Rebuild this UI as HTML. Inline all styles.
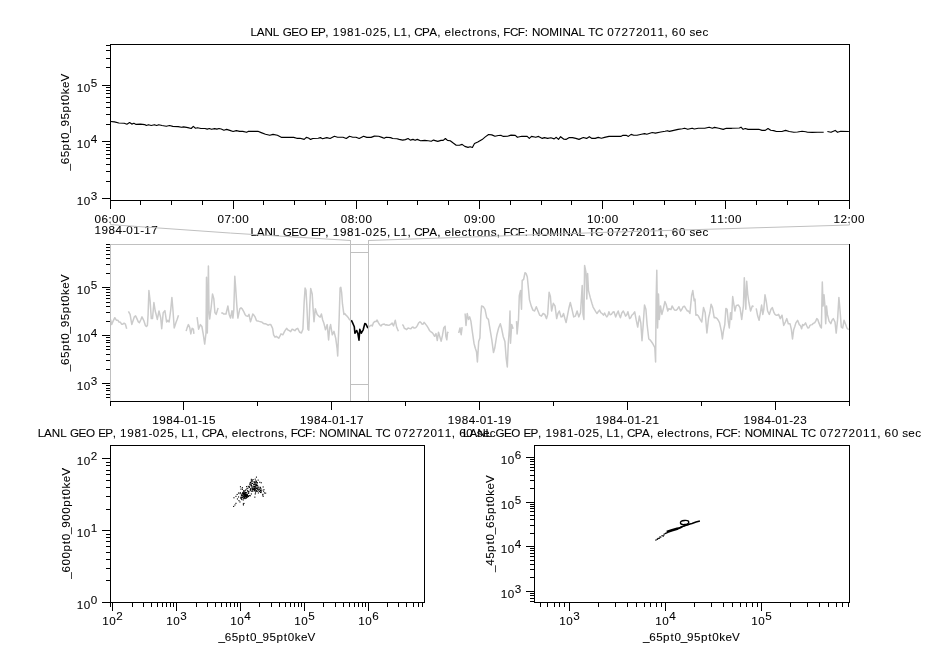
<!DOCTYPE html>
<html><head><meta charset="utf-8"><style>
html,body{margin:0;padding:0;background:#fff;}
svg{display:block;will-change:transform;}
text{font-family:"Liberation Sans",sans-serif;font-size:11.66px;fill:#000;stroke:#000;stroke-width:0.08px;}
</style></head><body>
<svg width="926" height="647" viewBox="0 0 926 647">
<rect width="926" height="647" fill="#fff"/>
<path d="M110.7,121.5 L114.5,121.9 L118.8,123.0 L124.2,123.3 L126.9,124.2 L129.6,122.6 L131.8,124.1 L133.9,123.3 L136.1,124.4 L140.4,124.1 L144.7,124.6 L146.3,125.5 L148.5,124.7 L151.2,125.5 L154.4,124.7 L156.6,125.5 L158.8,124.7 L162.0,125.5 L166.3,126.3 L169.6,125.5 L172.8,126.4 L178.2,126.6 L181.4,127.3 L183.6,126.9 L187.9,127.6 L191.2,128.5 L193.3,126.4 L195.5,128.2 L197.6,127.7 L200.9,128.5 L205.0,128.5 L207.2,129.1 L209.3,128.5 L211.5,129.3 L214.7,128.6 L216.9,129.1 L219.0,128.5 L221.2,129.0 L223.9,130.2 L226.6,129.4 L229.8,130.4 L233.1,131.5 L236.3,130.6 L239.6,131.4 L242.8,131.4 L246.6,132.3 L248.2,131.4 L252.5,131.3 L257.9,131.3 L261.2,132.6 L265.5,134.2 L269.8,135.3 L273.0,134.4 L277.4,135.3 L281.7,137.4 L287.1,137.2 L293.6,137.4 L296.8,138.3 L300.0,138.3 L304.2,139.4 L306.3,137.4 L308.5,138.0 L310.6,139.4 L312.8,138.5 L318.2,138.3 L320.4,137.6 L322.5,138.7 L326.8,137.6 L330.1,138.5 L334.4,136.3 L337.6,137.2 L343.0,137.2 L346.3,138.5 L349.5,136.3 L352.8,137.2 L356.0,137.2 L359.2,138.5 L363.6,136.3 L366.8,137.4 L371.1,137.4 L374.4,136.1 L378.7,136.3 L381.9,137.4 L384.1,138.3 L386.2,137.2 L390.6,137.6 L392.7,138.5 L397.0,138.7 L399.2,139.4 L402.7,140.1 L405.4,139.6 L408.1,138.5 L410.3,140.1 L413.0,139.4 L415.1,140.3 L417.3,139.4 L420.5,140.7 L424.8,140.4 L428.1,140.7 L431.3,141.2 L433.5,140.1 L437.8,141.4 L441.0,140.4 L443.2,140.4 L445.4,138.5 L447.5,140.4 L450.2,140.7 L452.9,142.8 L456.2,145.2 L459.4,145.3 L462.1,144.4 L464.8,146.4 L468.0,147.4 L470.2,146.8 L472.4,147.5 L474.5,143.6 L477.8,142.1 L482.1,139.6 L485.3,136.9 L488.6,134.5 L491.8,134.9 L495.0,136.3 L498.3,135.5 L501.2,135.4 L503.4,136.4 L507.7,136.2 L511.0,135.1 L515.3,135.4 L517.4,137.3 L521.8,136.2 L527.2,136.4 L529.3,138.4 L531.5,136.4 L535.8,137.3 L538.5,136.4 L542.3,138.4 L544.4,137.6 L547.7,138.4 L550.9,137.8 L554.2,138.9 L556.3,137.3 L558.5,139.4 L560.6,136.7 L563.9,139.2 L566.0,139.4 L569.3,137.5 L572.5,137.6 L575.8,138.4 L579.0,139.4 L583.3,137.5 L586.6,138.4 L589.3,136.7 L592.0,138.4 L595.2,138.4 L598.2,137.4 L601.4,138.2 L604.6,137.4 L609.0,136.4 L615.4,136.4 L620.8,136.4 L623.0,135.3 L626.2,135.3 L628.4,136.4 L631.1,134.4 L633.8,135.3 L637.0,135.2 L641.4,134.2 L644.6,133.6 L646.8,134.2 L652.2,132.5 L655.4,133.1 L660.8,132.0 L665.1,131.2 L667.3,130.7 L669.4,131.4 L673.8,130.4 L678.1,129.4 L682.4,128.7 L684.6,128.2 L687.8,129.3 L692.1,128.2 L694.3,129.0 L698.3,128.2 L704.8,128.2 L709.1,127.2 L712.4,128.2 L714.5,127.4 L718.8,128.2 L723.2,129.4 L726.4,128.3 L731.8,128.3 L739.4,128.0 L741.0,127.2 L743.1,129.3 L745.3,128.5 L748.0,129.4 L753.4,129.4 L758.8,129.3 L762.0,130.4 L765.3,130.4 L768.0,128.5 L770.7,130.3 L773.7,130.6 L776.4,131.5 L781.9,131.5 L785.6,130.4 L789.3,131.5 L793.9,132.3 L797.5,132.0 L802.1,131.3 L805.8,131.7 L807.6,132.3 L812.2,132.4 L817.7,132.2 L823.7,132.3" fill="none" stroke="#000" stroke-width="1.15" stroke-linejoin="round"/>
<path d="M827.4,131.5 L831.0,132.3 L835.2,130.4 L837.5,132.3 L840.7,131.3 L848.9,131.5" fill="none" stroke="#000" stroke-width="1.15" stroke-linejoin="round"/>
<rect x="110" y="44" width="740" height="1" fill="#000"/>
<rect x="110" y="44" width="1" height="157" fill="#000"/>
<rect x="110" y="200" width="740" height="1" fill="#000"/>
<rect x="849" y="44" width="1" height="157" fill="#000"/>
<rect x="102" y="198" width="8" height="1" fill="#000"/>
<rect x="106" y="181" width="4" height="1" fill="#000"/>
<rect x="106" y="171" width="4" height="1" fill="#000"/>
<rect x="106" y="164" width="4" height="1" fill="#000"/>
<rect x="106" y="158" width="4" height="1" fill="#000"/>
<rect x="106" y="154" width="4" height="1" fill="#000"/>
<rect x="106" y="150" width="4" height="1" fill="#000"/>
<rect x="106" y="147" width="4" height="1" fill="#000"/>
<rect x="106" y="144" width="4" height="1" fill="#000"/>
<rect x="102" y="141" width="8" height="1" fill="#000"/>
<rect x="106" y="124" width="4" height="1" fill="#000"/>
<rect x="106" y="114" width="4" height="1" fill="#000"/>
<rect x="106" y="107" width="4" height="1" fill="#000"/>
<rect x="106" y="102" width="4" height="1" fill="#000"/>
<rect x="106" y="97" width="4" height="1" fill="#000"/>
<rect x="106" y="93" width="4" height="1" fill="#000"/>
<rect x="106" y="90" width="4" height="1" fill="#000"/>
<rect x="106" y="87" width="4" height="1" fill="#000"/>
<rect x="102" y="85" width="8" height="1" fill="#000"/>
<rect x="106" y="67" width="4" height="1" fill="#000"/>
<rect x="106" y="58" width="4" height="1" fill="#000"/>
<rect x="106" y="50" width="4" height="1" fill="#000"/>
<rect x="106" y="45" width="4" height="1" fill="#000"/>
<text x="76.86 83.86" y="205">10</text>
<text x="90.86" y="200">3</text>
<text x="76.86 83.86" y="148">10</text>
<text x="90.86" y="143">4</text>
<text x="76.86 83.86" y="92">10</text>
<text x="90.86" y="87">5</text>
<rect x="110" y="200" width="1" height="9" fill="#000"/>
<rect x="140" y="200" width="1" height="5" fill="#000"/>
<rect x="171" y="200" width="1" height="5" fill="#000"/>
<rect x="202" y="200" width="1" height="5" fill="#000"/>
<rect x="233" y="200" width="1" height="9" fill="#000"/>
<rect x="263" y="200" width="1" height="5" fill="#000"/>
<rect x="294" y="200" width="1" height="5" fill="#000"/>
<rect x="325" y="200" width="1" height="5" fill="#000"/>
<rect x="356" y="200" width="1" height="9" fill="#000"/>
<rect x="387" y="200" width="1" height="5" fill="#000"/>
<rect x="417" y="200" width="1" height="5" fill="#000"/>
<rect x="448" y="200" width="1" height="5" fill="#000"/>
<rect x="479" y="200" width="1" height="9" fill="#000"/>
<rect x="510" y="200" width="1" height="5" fill="#000"/>
<rect x="541" y="200" width="1" height="5" fill="#000"/>
<rect x="571" y="200" width="1" height="5" fill="#000"/>
<rect x="602" y="200" width="1" height="9" fill="#000"/>
<rect x="633" y="200" width="1" height="5" fill="#000"/>
<rect x="664" y="200" width="1" height="5" fill="#000"/>
<rect x="695" y="200" width="1" height="5" fill="#000"/>
<rect x="725" y="200" width="1" height="9" fill="#000"/>
<rect x="756" y="200" width="1" height="5" fill="#000"/>
<rect x="787" y="200" width="1" height="5" fill="#000"/>
<rect x="818" y="200" width="1" height="5" fill="#000"/>
<rect x="849" y="200" width="1" height="9" fill="#000"/>
<text x="94.41 101.41 108.38 112.11 119.11" y="223">06:00</text>
<text x="217.57 224.57 231.55 235.28 242.28" y="223">07:00</text>
<text x="340.74 347.74 354.71 358.44 365.44" y="223">08:00</text>
<text x="463.91 470.91 477.88 481.61 488.61" y="223">09:00</text>
<text x="587.07 594.07 601.05 604.78 611.78" y="223">10:00</text>
<text x="710.24 717.24 724.21 727.94 734.94" y="223">11:00</text>
<text x="833.41 840.41 847.38 851.11 858.11" y="223">12:00</text>
<text x="94.41 101.41 108.40 115.40 122.19 126.37 133.37 140.15 144.34 151.34" y="234">1984-01-17</text>
<text x="250.40 256.76 264.53 272.87 279.44 282.69 291.28 298.65 307.81 310.91 317.88 325.35 328.94 332.71 339.90 347.08 354.27 361.20 365.54 372.72 379.91 386.92 390.51 393.83 400.57 407.59 411.18 414.33 422.00 429.27 437.20 440.79 444.44 451.43 454.52 461.43 468.05 472.26 476.74 483.78 490.63 496.66 500.25 503.35 509.90 517.74 524.83 528.53 531.96 540.31 549.31 559.08 562.38 570.79 578.45 585.02 588.32 595.07 603.40 607.16 614.35 621.54 628.73 635.91 643.10 650.29 657.48 664.49 668.08 671.85 679.03 686.04 689.49 695.58 702.49" y="36">LANL GEO EP, 1981-025, L1, CPA, electrons, FCF: NOMINAL TC 07272011, 60 sec</text>
<g transform="translate(69.2,122) rotate(-90)"><text x="-48.61 -42.37 -35.37 -28.38 -21.11 -17.07 -10.82 -4.57 2.42 9.41 16.68 20.72 27.73 33.97 40.47" y="0">_65pt0_95pt0keV</text></g>
<text x="250.40 256.76 264.53 272.87 279.44 282.69 291.28 298.65 307.81 310.91 317.88 325.35 328.94 332.71 339.90 347.08 354.27 361.20 365.54 372.72 379.91 386.92 390.51 393.83 400.57 407.59 411.18 414.33 422.00 429.27 437.20 440.79 444.44 451.43 454.52 461.43 468.05 472.26 476.74 483.78 490.63 496.66 500.25 503.35 509.90 517.74 524.83 528.53 531.96 540.31 549.31 559.08 562.38 570.79 578.45 585.02 588.32 595.07 603.40 607.16 614.35 621.54 628.73 635.91 643.10 650.29 657.48 664.49 668.08 671.85 679.03 686.04 689.49 695.58 702.49" y="236">LANL GEO EP, 1981-025, L1, CPA, electrons, FCF: NOMINAL TC 07272011, 60 sec</text>
<path d="M110.5,222.5 L110.5,224.6 Q230.5,233.6 350.5,240.5" fill="none" stroke="#c0c0c0" stroke-width="1"/>
<path d="M849.5,222.5 L849.5,225 Q609,231.7 368.5,240.5" fill="none" stroke="#c0c0c0" stroke-width="1"/>
<path d="M110.5,319.4 L111.7,324.5 L113.1,321.1 L114.8,317.7 L116.5,320.3 L117.8,320.2 L119.0,322.0 L120.3,322.2 L121.6,324.2 L122.8,324.2 L124.1,323.2 L125.4,324.2 L126.7,328.8" fill="none" stroke="#cbcbcb" stroke-width="1.5" stroke-linejoin="round"/>
<path d="M128.4,311.3 L130.1,314.4 L131.8,324.5 L133.1,320.6 L134.3,316.9 L135.6,315.9 L136.9,318.6 L138.2,321.6 L139.4,322.8 L140.7,320.0 L142.0,316.9 L143.7,320.3 L145.4,325.4 L146.4,326.5 L147.4,325.4 L148.1,314.4 L148.9,290.6 L150.1,300.8 L151.3,318.6 L152.5,318.6 L153.9,302.5 L155.2,311.0 L156.2,314.8 L157.3,319.4 L159.0,311.0 L160.7,317.7 L161.7,328.8 L163.2,312.7 L164.9,310.6 L166.6,322.0 L167.8,320.3 L169.1,322.0 L170.8,309.3 L171.9,297.4 L172.9,309.3 L174.2,328.0 L175.9,322.8 L177.2,319.3 L178.5,315.2" fill="none" stroke="#cbcbcb" stroke-width="1.5" stroke-linejoin="round"/>
<path d="M186.1,331.1 L187.2,327.6 L188.4,324.6 L189.7,327.4 L190.8,333.9 L192.1,328.3 L193.4,329.2 L193.9,333.9" fill="none" stroke="#cbcbcb" stroke-width="1.5" stroke-linejoin="round"/>
<path d="M197.1,317.2 L198.6,329.2 L200.4,324.6 L201.9,326.5 L203.2,333.9 L204.7,344.1 L206.0,333.0 L206.5,277.3 L207.3,333.0 L207.8,307.0 L208.4,266.1 L209.0,310.7 L209.7,319.0 L211.2,307.0 L212.5,294.0 L213.8,298.6 L214.9,312.5 L216.2,314.4 L218.1,307.9" fill="none" stroke="#cbcbcb" stroke-width="1.5" stroke-linejoin="round"/>
<path d="M221.2,312.9 L222.4,312.9 L223.6,314.0 L224.8,314.1 L226.0,314.0 L227.9,306.0 L229.2,314.4 L230.5,318.1 L232.0,310.7 L232.9,318.1 L233.8,309.8 L234.8,276.3 L235.7,288.4 L236.8,305.1 L237.9,318.1 L239.8,308.8 L241.0,307.8 L242.2,308.8 L243.6,311.3 L245.0,314.4 L246.3,315.9 L247.7,316.3 L249.0,314.4 L250.5,321.8 L251.7,317.9 L252.8,314.0 L254.0,315.3 L255.2,317.2 L256.5,320.8 L257.8,320.9 L259.2,321.4 L260.6,321.8 L261.8,322.0 L263.1,323.2 L264.3,323.7 L265.5,323.8 L266.8,324.4 L268.0,325.2 L269.4,324.6 L270.8,324.6 L272.6,328.3 L273.6,334.8 L275.0,337.2 L276.3,336.3 L277.6,337.3 L278.8,338.2 L279.9,336.2 L281.0,333.9 L282.8,334.8 L284.7,331.1 L286.6,328.3 L288.0,330.0 L289.3,330.7 L290.7,331.6 L292.1,329.2 L293.5,329.8 L294.9,330.7 L296.3,329.0 L297.7,328.3 L299.5,332.0 L301.4,333.0 L302.9,329.2 L304.2,301.4 L305.1,288.0 L306.0,290.3 L307.0,308.8 L307.9,329.2 L308.8,330.2 L309.8,305.1 L310.7,288.4 L312.2,294.0 L313.1,308.8 L314.0,321.8 L315.3,308.8 L317.2,314.4 L319.0,316.3 L320.2,317.1 L321.4,314.0 L322.7,320.0 L323.8,322.9 L325.5,329.7 L327.2,324.6 L328.6,339.9 L329.7,328.0 L330.6,324.6 L332.3,334.8 L334.0,331.4 L335.7,338.2 L337.1,348.4 L337.7,356.0 L339.1,319.5 L340.1,288.0 L340.8,287.2 L341.6,292.3 L342.5,304.2 L343.9,314.4 L344.9,313.6 L345.9,315.2 L347.1,316.2 L348.4,317.8 L349.5,319.6 L350.7,320.3" fill="none" stroke="#cbcbcb" stroke-width="1.5" stroke-linejoin="round"/>
<path d="M368.2,327.8 L369.4,326.3 L371.3,325.2 L372.3,326.0 L373.3,323.1 L374.7,321.5 L376.1,321.5 L377.1,320.0 L378.2,322.4 L379.6,324.7 L381.0,325.9 L382.1,324.6 L383.1,324.2 L384.3,324.1 L385.4,325.0 L386.6,324.8 L388.0,325.2 L389.3,325.2 L390.7,324.4 L392.1,323.1 L393.5,325.9 L395.3,320.3 L396.7,327.3 L398.4,331.2" fill="none" stroke="#cbcbcb" stroke-width="1.5" stroke-linejoin="round"/>
<path d="M402.3,324.5 L403.3,325.6 L404.3,328.3 L405.3,328.7 L406.7,329.6 L408.1,328.0 L409.5,328.4 L410.9,328.7 L411.9,327.5 L413.0,327.0 L414.1,328.1 L415.1,328.0 L416.1,327.3 L417.2,325.9 L418.6,323.0 L420.0,321.7 L421.0,322.6 L422.0,324.2 L423.1,324.1 L424.1,322.4 L425.5,324.1 L426.9,325.9 L428.3,328.1 L429.7,330.8 L431.1,332.0 L432.5,332.9 L433.6,334.6 L434.6,336.3 L436.0,333.6 L437.3,340.5 L438.5,332.2 L440.1,337.7 L441.2,341.2 L442.4,335.7 L443.7,328.0 L445.1,326.2 L445.9,336.4 L446.8,339.8 L447.6,332.2 L448.5,333.0" fill="none" stroke="#cbcbcb" stroke-width="1.5" stroke-linejoin="round"/>
<path d="M458.7,333.0 L460.0,328.0 L461.2,334.7 L462.1,327.1" fill="none" stroke="#cbcbcb" stroke-width="1.5" stroke-linejoin="round"/>
<path d="M465.1,313.5 L466.0,325.4 L467.2,313.5 L468.5,319.4 L469.7,316.9 L470.9,321.1 L472.3,331.3 L474.0,343.2 L475.3,348.3 L476.5,351.7 L477.4,361.9 L478.7,341.5 L479.9,338.1 L480.8,316.0 L481.6,305.9 L483.3,306.7 L485.0,309.3 L486.7,317.7 L488.4,319.4 L490.1,329.6 L491.8,339.8 L493.5,352.6 L494.7,348.3 L495.8,341.5 L496.9,334.7 L498.6,328.0 L500.3,323.7 L501.5,328.0 L503.2,336.4 L504.9,341.5 L506.2,358.5 L507.3,367.0 L508.3,343.2 L509.3,329.6 L510.0,311.0 L510.5,343.2 L511.7,324.5 L513.1,328.8" fill="none" stroke="#cbcbcb" stroke-width="1.5" stroke-linejoin="round"/>
<path d="M516.5,321.1 L517.1,333.9 L518.5,319.4 L519.3,295.7 L520.5,290.6 L521.5,309.3 L522.2,280.4 L523.6,279.5 L525.0,272.7 L526.1,273.6 L527.3,277.0 L528.3,287.2 L529.5,299.9 L531.2,305.9 L532.9,310.1 L534.6,311.0 L536.3,306.7 L538.0,311.0 L539.7,315.2 L541.4,316.1 L543.1,313.5 L544.8,314.4 L546.5,318.6 L547.7,314.4 L549.1,292.3 L550.4,296.5 L551.6,311.0 L553.3,303.3 L555.0,305.9 L556.7,318.6 L558.0,313.3 L559.3,311.0 L561.0,316.9 L562.2,316.6 L563.5,313.5 L564.8,318.2 L566.1,322.5 L567.7,314.4 L569.0,307.7 L570.3,302.5 L572.0,309.3 L573.7,316.9 L575.4,316.1 L577.1,311.0 L578.8,316.9 L580.5,312.7 L582.2,285.5 L583.0,314.4 L583.9,319.4 L584.6,265.5 L585.9,271.9 L586.8,299.1 L587.6,273.6 L588.5,290.6 L590.2,297.4 L591.9,303.3 L593.1,307.1 L594.4,309.3 L595.7,311.6 L597.0,313.5 L598.2,311.8 L599.5,310.1 L600.8,312.6 L602.1,313.5 L603.4,315.1 L604.6,313.0 L605.7,315.4 L606.8,316.9 L607.8,315.6 L608.9,311.8 L610.1,314.8 L611.4,314.4 L612.7,312.3 L614.0,311.8 L615.7,316.9 L617.0,313.5 L618.2,311.0 L619.3,315.0 L620.4,317.7 L621.8,313.0 L623.3,311.0 L624.4,313.3 L625.5,316.1 L626.7,315.0 L627.9,311.8 L629.6,318.6 L630.7,317.7 L631.8,315.2 L633.2,314.0 L634.7,311.8 L636.1,319.4 L637.7,327.1 L639.4,316.1 L640.8,322.8 L642.0,340.7 L643.2,324.5 L644.5,305.0 L645.9,309.3 L647.1,324.5 L648.8,339.0 L650.0,339.8 L651.3,341.5 L652.5,343.2 L653.4,344.9 L654.8,347.5 L655.6,361.9 L656.1,300.8 L656.8,270.2 L657.6,327.9 L658.5,294.0 L659.3,319.4 L660.5,305.9 L661.9,314.4 L663.6,307.6 L664.9,301.6 L666.1,304.2 L667.8,311.0 L668.9,308.6 L670.0,309.3 L671.0,309.5 L672.1,305.9 L673.4,308.4 L674.6,310.1 L675.9,310.3 L677.2,309.3 L678.9,306.7 L680.6,311.0 L681.9,309.2 L683.1,306.7 L684.4,306.2 L685.7,308.4 L687.4,311.0 L688.6,311.1 L689.9,313.5 L691.6,295.7 L692.8,290.6 L694.2,300.8 L695.0,299.1 L695.9,315.2 L697.1,314.7 L698.4,316.1 L700.1,319.4 L701.8,322.0 L703.5,307.6 L705.2,312.7 L706.9,333.0 L708.6,317.7 L709.9,312.5 L711.1,304.2 L712.5,307.6 L714.2,317.7 L715.7,317.5 L717.1,318.6 L718.4,320.5 L719.6,322.8 L721.4,331.3 L722.4,339.0 L723.4,331.3 L724.8,324.5 L725.9,308.4 L727.1,309.3 L728.2,321.1 L729.3,327.9 L730.5,312.7 L731.5,319.4 L732.7,296.5 L733.6,302.5 L734.9,311.0 L736.1,305.9 L737.2,305.2 L738.3,305.0 L740.0,307.6 L741.7,319.4 L743.4,305.9 L744.3,277.8 L745.1,295.7 L745.8,309.3 L746.7,281.2 L747.7,294.0 L748.9,302.5 L750.6,311.0 L752.3,305.9 L753.6,306.7" fill="none" stroke="#cbcbcb" stroke-width="1.5" stroke-linejoin="round"/>
<path d="M756.2,308.4 L757.7,316.1 L759.1,320.3 L760.4,312.7 L761.6,305.0 L762.8,314.4 L763.8,309.3 L765.0,294.8 L766.2,300.8 L767.6,311.0 L769.3,314.4 L771.0,309.3 L772.3,307.6 L774.0,312.7 L775.0,314.4 L776.1,315.2 L777.4,315.2 L778.6,314.4 L780.3,318.6 L782.0,315.2 L783.7,325.4 L785.4,322.0 L786.8,318.6 L788.3,323.7 L790.0,323.7 L791.4,329.7 L792.5,339.0 L793.7,329.7 L794.8,326.5 L795.9,322.9 L797.6,320.3 L799.3,324.6 L800.5,325.7 L801.6,328.8 L802.6,324.6 L803.6,325.4 L804.6,324.3 L805.6,322.9 L806.7,325.7 L807.8,328.0 L808.9,327.7 L810.0,325.4 L811.0,324.9 L812.1,324.6 L813.4,323.3 L814.6,322.9 L815.7,321.1 L816.8,318.6 L817.8,319.5 L818.9,322.9 L820.6,327.1 L821.4,328.0 L822.3,282.1 L823.1,305.9 L824.0,294.8 L824.8,304.2 L825.7,323.7 L826.5,305.9 L827.4,314.4 L829.1,321.1 L830.8,323.7 L832.0,320.3 L833.3,318.6 L835.0,322.0 L836.2,333.1 L837.6,319.4 L838.9,297.4 L840.1,311.0 L841.3,327.1 L842.7,328.0 L844.0,320.3 L845.7,324.6 L846.9,328.0 L848.6,329.7" fill="none" stroke="#cbcbcb" stroke-width="1.5" stroke-linejoin="round"/>
<path d="M351.3,320.2 L352.4,322.4 L354.3,326.7 L354.9,333.2 L356.7,330.5 L357.8,333.2 L359.0,340.2 L359.8,329.4 L361.3,333.2 L363.2,329.8 L364.8,323.6 L365.9,324.0 L367.9,328.2" fill="none" stroke="#000" stroke-width="1.6" stroke-linejoin="round"/>
<rect x="350" y="240" width="1" height="161" fill="#c0c0c0"/>
<rect x="368" y="240" width="1" height="161" fill="#c0c0c0"/>
<rect x="351" y="252" width="17" height="1" fill="#c0c0c0"/>
<rect x="351" y="384" width="17" height="1" fill="#c0c0c0"/>
<rect x="110" y="244" width="740" height="1" fill="#c0c0c0"/>
<rect x="110" y="244" width="1" height="158" fill="#c0c0c0"/>
<rect x="110" y="401" width="740" height="1" fill="#000"/>
<rect x="849" y="244" width="1" height="158" fill="#000"/>
<rect x="106" y="397" width="4" height="1" fill="#000"/>
<rect x="106" y="394" width="4" height="1" fill="#000"/>
<rect x="106" y="390" width="4" height="1" fill="#000"/>
<rect x="106" y="388" width="4" height="1" fill="#000"/>
<rect x="106" y="385" width="4" height="1" fill="#000"/>
<rect x="102" y="383" width="8" height="1" fill="#000"/>
<rect x="106" y="369" width="4" height="1" fill="#000"/>
<rect x="106" y="360" width="4" height="1" fill="#000"/>
<rect x="106" y="354" width="4" height="1" fill="#000"/>
<rect x="106" y="349" width="4" height="1" fill="#000"/>
<rect x="106" y="346" width="4" height="1" fill="#000"/>
<rect x="106" y="342" width="4" height="1" fill="#000"/>
<rect x="106" y="340" width="4" height="1" fill="#000"/>
<rect x="106" y="337" width="4" height="1" fill="#000"/>
<rect x="102" y="335" width="8" height="1" fill="#000"/>
<rect x="106" y="321" width="4" height="1" fill="#000"/>
<rect x="106" y="312" width="4" height="1" fill="#000"/>
<rect x="106" y="306" width="4" height="1" fill="#000"/>
<rect x="106" y="302" width="4" height="1" fill="#000"/>
<rect x="106" y="298" width="4" height="1" fill="#000"/>
<rect x="106" y="295" width="4" height="1" fill="#000"/>
<rect x="106" y="292" width="4" height="1" fill="#000"/>
<rect x="106" y="289" width="4" height="1" fill="#000"/>
<rect x="102" y="287" width="8" height="1" fill="#000"/>
<rect x="106" y="273" width="4" height="1" fill="#000"/>
<rect x="106" y="264" width="4" height="1" fill="#000"/>
<rect x="106" y="258" width="4" height="1" fill="#000"/>
<rect x="106" y="254" width="4" height="1" fill="#000"/>
<rect x="106" y="250" width="4" height="1" fill="#000"/>
<rect x="106" y="247" width="4" height="1" fill="#000"/>
<rect x="106" y="244" width="4" height="1" fill="#000"/>
<text x="76.86 83.86" y="390">10</text>
<text x="90.86" y="385">3</text>
<text x="76.86 83.86" y="342">10</text>
<text x="90.86" y="337">4</text>
<text x="76.86 83.86" y="294">10</text>
<text x="90.86" y="289">5</text>
<rect x="110" y="401" width="1" height="5" fill="#000"/>
<rect x="183" y="401" width="1" height="9" fill="#000"/>
<rect x="257" y="401" width="1" height="5" fill="#000"/>
<rect x="331" y="401" width="1" height="9" fill="#000"/>
<rect x="405" y="401" width="1" height="5" fill="#000"/>
<rect x="479" y="401" width="1" height="9" fill="#000"/>
<rect x="553" y="401" width="1" height="5" fill="#000"/>
<rect x="627" y="401" width="1" height="9" fill="#000"/>
<rect x="701" y="401" width="1" height="5" fill="#000"/>
<rect x="775" y="401" width="1" height="9" fill="#000"/>
<rect x="849" y="401" width="1" height="5" fill="#000"/>
<text x="152.19 159.19 166.19 173.19 179.97 184.16 191.16 197.94 202.12 209.12" y="424">1984-01-15</text>
<text x="299.99 306.99 313.99 320.99 327.77 331.96 338.96 345.74 349.92 356.92" y="424">1984-01-17</text>
<text x="447.79 454.79 461.79 468.79 475.57 479.76 486.76 493.54 497.72 504.72" y="424">1984-01-19</text>
<text x="595.59 602.59 609.59 616.59 623.37 627.56 634.56 641.34 645.52 652.52" y="424">1984-01-21</text>
<text x="743.39 750.39 757.39 764.39 771.17 775.36 782.36 789.14 793.32 800.32" y="424">1984-01-23</text>
<g transform="translate(69.2,322.6) rotate(-90)"><text x="-48.61 -42.37 -35.37 -28.38 -21.11 -17.07 -10.82 -4.57 2.42 9.41 16.68 20.72 27.73 33.97 40.47" y="0">_65pt0_95pt0keV</text></g>
<text x="37.70 44.06 51.83 60.17 66.74 69.99 78.58 85.95 95.11 98.21 105.18 112.65 116.24 120.01 127.20 134.38 141.57 148.50 152.84 160.02 167.21 174.22 177.81 181.13 187.87 194.89 198.48 201.63 209.30 216.57 224.50 228.09 231.74 238.73 241.82 248.73 255.35 259.56 264.04 271.08 277.93 283.96 287.55 290.65 297.20 305.04 312.13 315.83 319.26 327.61 336.61 346.38 349.68 358.09 365.75 372.32 375.62 382.37 390.70 394.46 401.65 408.84 416.03 423.21 430.40 437.59 444.78 451.79 455.38 459.15 466.33 473.34 476.79 482.88 489.79" y="437">LANL GEO EP, 1981-025, L1, CPA, electrons, FCF: NOMINAL TC 07272011, 60 sec</text>
<rect x="110" y="445" width="315" height="1" fill="#000"/>
<rect x="110" y="445" width="1" height="158" fill="#000"/>
<rect x="110" y="602" width="315" height="1" fill="#000"/>
<rect x="424" y="445" width="1" height="158" fill="#000"/>
<rect x="102" y="602" width="8" height="1" fill="#000"/>
<rect x="106" y="580" width="4" height="1" fill="#000"/>
<rect x="106" y="568" width="4" height="1" fill="#000"/>
<rect x="106" y="559" width="4" height="1" fill="#000"/>
<rect x="106" y="552" width="4" height="1" fill="#000"/>
<rect x="106" y="546" width="4" height="1" fill="#000"/>
<rect x="106" y="541" width="4" height="1" fill="#000"/>
<rect x="106" y="537" width="4" height="1" fill="#000"/>
<rect x="106" y="534" width="4" height="1" fill="#000"/>
<rect x="102" y="530" width="8" height="1" fill="#000"/>
<rect x="106" y="509" width="4" height="1" fill="#000"/>
<rect x="106" y="496" width="4" height="1" fill="#000"/>
<rect x="106" y="487" width="4" height="1" fill="#000"/>
<rect x="106" y="480" width="4" height="1" fill="#000"/>
<rect x="106" y="474" width="4" height="1" fill="#000"/>
<rect x="106" y="470" width="4" height="1" fill="#000"/>
<rect x="106" y="465" width="4" height="1" fill="#000"/>
<rect x="106" y="462" width="4" height="1" fill="#000"/>
<rect x="102" y="458" width="8" height="1" fill="#000"/>
<text x="76.86 83.86" y="609">10</text>
<text x="90.86" y="604">0</text>
<text x="76.86 83.86" y="537">10</text>
<text x="90.86" y="532">1</text>
<text x="76.86 83.86" y="465">10</text>
<text x="90.86" y="460">2</text>
<rect x="110" y="602" width="1" height="5" fill="#000"/>
<rect x="112" y="602" width="1" height="9" fill="#000"/>
<rect x="132" y="602" width="1" height="5" fill="#000"/>
<rect x="143" y="602" width="1" height="5" fill="#000"/>
<rect x="151" y="602" width="1" height="5" fill="#000"/>
<rect x="157" y="602" width="1" height="5" fill="#000"/>
<rect x="162" y="602" width="1" height="5" fill="#000"/>
<rect x="166" y="602" width="1" height="5" fill="#000"/>
<rect x="170" y="602" width="1" height="5" fill="#000"/>
<rect x="173" y="602" width="1" height="5" fill="#000"/>
<rect x="176" y="602" width="1" height="9" fill="#000"/>
<rect x="196" y="602" width="1" height="5" fill="#000"/>
<rect x="207" y="602" width="1" height="5" fill="#000"/>
<rect x="215" y="602" width="1" height="5" fill="#000"/>
<rect x="221" y="602" width="1" height="5" fill="#000"/>
<rect x="226" y="602" width="1" height="5" fill="#000"/>
<rect x="230" y="602" width="1" height="5" fill="#000"/>
<rect x="234" y="602" width="1" height="5" fill="#000"/>
<rect x="237" y="602" width="1" height="5" fill="#000"/>
<rect x="240" y="602" width="1" height="9" fill="#000"/>
<rect x="259" y="602" width="1" height="5" fill="#000"/>
<rect x="271" y="602" width="1" height="5" fill="#000"/>
<rect x="279" y="602" width="1" height="5" fill="#000"/>
<rect x="285" y="602" width="1" height="5" fill="#000"/>
<rect x="290" y="602" width="1" height="5" fill="#000"/>
<rect x="294" y="602" width="1" height="5" fill="#000"/>
<rect x="298" y="602" width="1" height="5" fill="#000"/>
<rect x="301" y="602" width="1" height="5" fill="#000"/>
<rect x="304" y="602" width="1" height="9" fill="#000"/>
<rect x="323" y="602" width="1" height="5" fill="#000"/>
<rect x="335" y="602" width="1" height="5" fill="#000"/>
<rect x="343" y="602" width="1" height="5" fill="#000"/>
<rect x="349" y="602" width="1" height="5" fill="#000"/>
<rect x="354" y="602" width="1" height="5" fill="#000"/>
<rect x="358" y="602" width="1" height="5" fill="#000"/>
<rect x="362" y="602" width="1" height="5" fill="#000"/>
<rect x="365" y="602" width="1" height="5" fill="#000"/>
<rect x="368" y="602" width="1" height="9" fill="#000"/>
<rect x="387" y="602" width="1" height="5" fill="#000"/>
<rect x="398" y="602" width="1" height="5" fill="#000"/>
<rect x="406" y="602" width="1" height="5" fill="#000"/>
<rect x="413" y="602" width="1" height="5" fill="#000"/>
<rect x="418" y="602" width="1" height="5" fill="#000"/>
<rect x="422" y="602" width="1" height="5" fill="#000"/>
<text x="102.26 109.26" y="625">10</text>
<text x="116.26" y="620">2</text>
<text x="166.26 173.26" y="625">10</text>
<text x="180.26" y="620">3</text>
<text x="230.26 237.26" y="625">10</text>
<text x="244.26" y="620">4</text>
<text x="294.26 301.26" y="625">10</text>
<text x="308.26" y="620">5</text>
<text x="358.26 365.26" y="625">10</text>
<text x="372.26" y="620">6</text>
<text x="218.39 224.63 231.63 238.62 245.89 249.93 256.18 262.43 269.42 276.41 283.68 287.72 294.73 300.97 307.47" y="640.5">_65pt0_95pt0keV</text>
<g transform="translate(69.5,523.2) rotate(-90)"><text x="-55.61 -49.36 -42.37 -35.37 -28.38 -21.11 -17.07 -10.82 -4.57 2.42 9.42 16.41 23.68 27.72 34.73 40.97 47.47" y="0">_600pt0_900pt0keV</text></g>
<text x="463.10 469.46 477.23 485.57 492.14 495.39 503.98 511.35 520.51 523.61 530.58 538.05 541.64 545.41 552.60 559.78 566.97 573.90 578.24 585.42 592.61 599.62 603.21 606.53 613.27 620.29 623.88 627.03 634.70 641.97 649.90 653.49 657.14 664.13 667.22 674.13 680.75 684.96 689.44 696.48 703.33 709.36 712.95 716.05 722.60 730.44 737.53 741.23 744.66 753.01 762.01 771.78 775.08 783.49 791.15 797.72 801.02 807.77 816.10 819.86 827.05 834.24 841.43 848.61 855.80 862.99 870.18 877.19 880.78 884.55 891.73 898.74 902.19 908.28 915.19" y="437">LANL GEO EP, 1981-025, L1, CPA, electrons, FCF: NOMINAL TC 07272011, 60 sec</text>
<rect x="534" y="445" width="316" height="1" fill="#000"/>
<rect x="534" y="445" width="1" height="158" fill="#000"/>
<rect x="534" y="602" width="316" height="1" fill="#000"/>
<rect x="849" y="445" width="1" height="158" fill="#000"/>
<rect x="530" y="601" width="4" height="1" fill="#000"/>
<rect x="530" y="598" width="4" height="1" fill="#000"/>
<rect x="530" y="595" width="4" height="1" fill="#000"/>
<rect x="530" y="593" width="4" height="1" fill="#000"/>
<rect x="526" y="591" width="8" height="1" fill="#000"/>
<rect x="530" y="577" width="4" height="1" fill="#000"/>
<rect x="530" y="569" width="4" height="1" fill="#000"/>
<rect x="530" y="564" width="4" height="1" fill="#000"/>
<rect x="530" y="560" width="4" height="1" fill="#000"/>
<rect x="530" y="556" width="4" height="1" fill="#000"/>
<rect x="530" y="553" width="4" height="1" fill="#000"/>
<rect x="530" y="550" width="4" height="1" fill="#000"/>
<rect x="530" y="548" width="4" height="1" fill="#000"/>
<rect x="526" y="546" width="8" height="1" fill="#000"/>
<rect x="530" y="533" width="4" height="1" fill="#000"/>
<rect x="530" y="525" width="4" height="1" fill="#000"/>
<rect x="530" y="519" width="4" height="1" fill="#000"/>
<rect x="530" y="515" width="4" height="1" fill="#000"/>
<rect x="530" y="511" width="4" height="1" fill="#000"/>
<rect x="530" y="508" width="4" height="1" fill="#000"/>
<rect x="530" y="506" width="4" height="1" fill="#000"/>
<rect x="530" y="504" width="4" height="1" fill="#000"/>
<rect x="526" y="502" width="8" height="1" fill="#000"/>
<rect x="530" y="488" width="4" height="1" fill="#000"/>
<rect x="530" y="480" width="4" height="1" fill="#000"/>
<rect x="530" y="475" width="4" height="1" fill="#000"/>
<rect x="530" y="470" width="4" height="1" fill="#000"/>
<rect x="530" y="467" width="4" height="1" fill="#000"/>
<rect x="530" y="464" width="4" height="1" fill="#000"/>
<rect x="530" y="461" width="4" height="1" fill="#000"/>
<rect x="530" y="459" width="4" height="1" fill="#000"/>
<rect x="526" y="457" width="8" height="1" fill="#000"/>
<text x="500.86 507.86" y="598">10</text>
<text x="514.86" y="593">3</text>
<text x="500.86 507.86" y="553">10</text>
<text x="514.86" y="548">4</text>
<text x="500.86 507.86" y="509">10</text>
<text x="514.86" y="504">5</text>
<text x="500.86 507.86" y="464">10</text>
<text x="514.86" y="459">6</text>
<rect x="540" y="602" width="1" height="5" fill="#000"/>
<rect x="547" y="602" width="1" height="5" fill="#000"/>
<rect x="554" y="602" width="1" height="5" fill="#000"/>
<rect x="559" y="602" width="1" height="5" fill="#000"/>
<rect x="564" y="602" width="1" height="5" fill="#000"/>
<rect x="569" y="602" width="1" height="9" fill="#000"/>
<rect x="598" y="602" width="1" height="5" fill="#000"/>
<rect x="615" y="602" width="1" height="5" fill="#000"/>
<rect x="627" y="602" width="1" height="5" fill="#000"/>
<rect x="636" y="602" width="1" height="5" fill="#000"/>
<rect x="644" y="602" width="1" height="5" fill="#000"/>
<rect x="650" y="602" width="1" height="5" fill="#000"/>
<rect x="656" y="602" width="1" height="5" fill="#000"/>
<rect x="661" y="602" width="1" height="5" fill="#000"/>
<rect x="665" y="602" width="1" height="9" fill="#000"/>
<rect x="694" y="602" width="1" height="5" fill="#000"/>
<rect x="711" y="602" width="1" height="5" fill="#000"/>
<rect x="723" y="602" width="1" height="5" fill="#000"/>
<rect x="732" y="602" width="1" height="5" fill="#000"/>
<rect x="740" y="602" width="1" height="5" fill="#000"/>
<rect x="746" y="602" width="1" height="5" fill="#000"/>
<rect x="752" y="602" width="1" height="5" fill="#000"/>
<rect x="757" y="602" width="1" height="5" fill="#000"/>
<rect x="761" y="602" width="1" height="9" fill="#000"/>
<rect x="790" y="602" width="1" height="5" fill="#000"/>
<rect x="807" y="602" width="1" height="5" fill="#000"/>
<rect x="819" y="602" width="1" height="5" fill="#000"/>
<rect x="828" y="602" width="1" height="5" fill="#000"/>
<rect x="836" y="602" width="1" height="5" fill="#000"/>
<rect x="842" y="602" width="1" height="5" fill="#000"/>
<rect x="848" y="602" width="1" height="5" fill="#000"/>
<text x="559.26 566.26" y="625">10</text>
<text x="573.26" y="620">3</text>
<text x="655.26 662.26" y="625">10</text>
<text x="669.26" y="620">4</text>
<text x="751.26 758.26" y="625">10</text>
<text x="765.26" y="620">5</text>
<text x="642.89 649.13 656.13 663.12 670.39 674.43 680.68 686.93 693.92 700.91 708.18 712.22 719.23 725.47 731.97" y="640.5">_65pt0_95pt0keV</text>
<g transform="translate(494.2,523.5) rotate(-90)"><text x="-48.61 -42.37 -35.37 -28.38 -21.11 -17.07 -10.82 -4.57 2.42 9.41 16.68 20.72 27.73 33.97 40.47" y="0">_45pt0_65pt0keV</text></g>
<rect x="243.7" y="495.6" width="1.1" height="1.1" fill="#000"/>
<rect x="243.7" y="493.1" width="1.1" height="1.1" fill="#000"/>
<rect x="242.1" y="493.4" width="1.1" height="1.1" fill="#000"/>
<rect x="246.8" y="495.4" width="1.1" height="1.1" fill="#000"/>
<rect x="246.6" y="494.8" width="1.1" height="1.1" fill="#000"/>
<rect x="245.2" y="494.6" width="1.1" height="1.1" fill="#000"/>
<rect x="240.4" y="496.7" width="1.1" height="1.1" fill="#000"/>
<rect x="245.4" y="495.6" width="1.1" height="1.1" fill="#000"/>
<rect x="240.4" y="488.6" width="1.1" height="1.1" fill="#000"/>
<rect x="242.2" y="492.6" width="1.1" height="1.1" fill="#000"/>
<rect x="245.0" y="493.9" width="1.1" height="1.1" fill="#000"/>
<rect x="245.4" y="492.1" width="1.1" height="1.1" fill="#000"/>
<rect x="245.0" y="495.3" width="1.1" height="1.1" fill="#000"/>
<rect x="242.7" y="499.4" width="1.1" height="1.1" fill="#000"/>
<rect x="245.5" y="497.8" width="1.1" height="1.1" fill="#000"/>
<rect x="242.8" y="491.8" width="1.1" height="1.1" fill="#000"/>
<rect x="243.5" y="493.7" width="1.1" height="1.1" fill="#000"/>
<rect x="245.7" y="494.8" width="1.1" height="1.1" fill="#000"/>
<rect x="243.2" y="491.1" width="1.1" height="1.1" fill="#000"/>
<rect x="243.1" y="497.8" width="1.1" height="1.1" fill="#000"/>
<rect x="242.4" y="494.8" width="1.1" height="1.1" fill="#000"/>
<rect x="245.2" y="489.4" width="1.1" height="1.1" fill="#000"/>
<rect x="244.4" y="498.1" width="1.1" height="1.1" fill="#000"/>
<rect x="239.6" y="493.1" width="1.1" height="1.1" fill="#000"/>
<rect x="244.0" y="491.5" width="1.1" height="1.1" fill="#000"/>
<rect x="245.4" y="493.9" width="1.1" height="1.1" fill="#000"/>
<rect x="240.9" y="496.6" width="1.1" height="1.1" fill="#000"/>
<rect x="245.8" y="497.0" width="1.1" height="1.1" fill="#000"/>
<rect x="247.6" y="495.2" width="1.1" height="1.1" fill="#000"/>
<rect x="244.5" y="490.0" width="1.1" height="1.1" fill="#000"/>
<rect x="245.7" y="492.2" width="1.1" height="1.1" fill="#000"/>
<rect x="243.2" y="490.1" width="1.1" height="1.1" fill="#000"/>
<rect x="242.0" y="492.4" width="1.1" height="1.1" fill="#000"/>
<rect x="247.2" y="487.8" width="1.1" height="1.1" fill="#000"/>
<rect x="240.9" y="494.8" width="1.1" height="1.1" fill="#000"/>
<rect x="247.6" y="495.8" width="1.1" height="1.1" fill="#000"/>
<rect x="239.9" y="486.2" width="1.1" height="1.1" fill="#000"/>
<rect x="245.1" y="491.8" width="1.1" height="1.1" fill="#000"/>
<rect x="241.7" y="497.1" width="1.1" height="1.1" fill="#000"/>
<rect x="246.8" y="494.5" width="1.1" height="1.1" fill="#000"/>
<rect x="244.8" y="495.4" width="1.1" height="1.1" fill="#000"/>
<rect x="247.9" y="496.0" width="1.1" height="1.1" fill="#000"/>
<rect x="245.4" y="495.7" width="1.1" height="1.1" fill="#000"/>
<rect x="240.6" y="498.0" width="1.1" height="1.1" fill="#000"/>
<rect x="246.4" y="495.7" width="1.1" height="1.1" fill="#000"/>
<rect x="239.7" y="492.1" width="1.1" height="1.1" fill="#000"/>
<rect x="246.2" y="488.4" width="1.1" height="1.1" fill="#000"/>
<rect x="243.8" y="497.2" width="1.1" height="1.1" fill="#000"/>
<rect x="241.2" y="499.0" width="1.1" height="1.1" fill="#000"/>
<rect x="245.5" y="493.6" width="1.1" height="1.1" fill="#000"/>
<rect x="245.0" y="496.1" width="1.1" height="1.1" fill="#000"/>
<rect x="244.5" y="497.6" width="1.1" height="1.1" fill="#000"/>
<rect x="242.7" y="492.8" width="1.1" height="1.1" fill="#000"/>
<rect x="246.6" y="494.1" width="1.1" height="1.1" fill="#000"/>
<rect x="242.2" y="497.0" width="1.1" height="1.1" fill="#000"/>
<rect x="247.6" y="492.7" width="1.1" height="1.1" fill="#000"/>
<rect x="241.1" y="493.6" width="1.1" height="1.1" fill="#000"/>
<rect x="243.9" y="493.1" width="1.1" height="1.1" fill="#000"/>
<rect x="247.5" y="490.9" width="1.1" height="1.1" fill="#000"/>
<rect x="247.1" y="490.1" width="1.1" height="1.1" fill="#000"/>
<rect x="242.4" y="496.0" width="1.1" height="1.1" fill="#000"/>
<rect x="246.8" y="496.7" width="1.1" height="1.1" fill="#000"/>
<rect x="245.0" y="494.5" width="1.1" height="1.1" fill="#000"/>
<rect x="244.6" y="495.8" width="1.1" height="1.1" fill="#000"/>
<rect x="243.8" y="494.9" width="1.1" height="1.1" fill="#000"/>
<rect x="245.6" y="494.1" width="1.1" height="1.1" fill="#000"/>
<rect x="246.0" y="495.8" width="1.1" height="1.1" fill="#000"/>
<rect x="248.9" y="495.1" width="1.1" height="1.1" fill="#000"/>
<rect x="243.3" y="492.9" width="1.1" height="1.1" fill="#000"/>
<rect x="244.2" y="496.9" width="1.1" height="1.1" fill="#000"/>
<rect x="243.5" y="495.2" width="1.1" height="1.1" fill="#000"/>
<rect x="248.5" y="486.1" width="1.1" height="1.1" fill="#000"/>
<rect x="241.7" y="494.8" width="1.1" height="1.1" fill="#000"/>
<rect x="245.2" y="494.8" width="1.1" height="1.1" fill="#000"/>
<rect x="243.3" y="496.1" width="1.1" height="1.1" fill="#000"/>
<rect x="244.9" y="492.4" width="1.1" height="1.1" fill="#000"/>
<rect x="249.8" y="495.2" width="1.1" height="1.1" fill="#000"/>
<rect x="243.0" y="493.7" width="1.1" height="1.1" fill="#000"/>
<rect x="243.7" y="493.9" width="1.1" height="1.1" fill="#000"/>
<rect x="238.0" y="492.5" width="1.1" height="1.1" fill="#000"/>
<rect x="255.8" y="481.6" width="1.1" height="1.1" fill="#000"/>
<rect x="253.6" y="488.6" width="1.1" height="1.1" fill="#000"/>
<rect x="255.5" y="490.4" width="1.1" height="1.1" fill="#000"/>
<rect x="250.3" y="484.3" width="1.1" height="1.1" fill="#000"/>
<rect x="253.1" y="487.5" width="1.1" height="1.1" fill="#000"/>
<rect x="255.9" y="476.6" width="1.1" height="1.1" fill="#000"/>
<rect x="255.9" y="480.7" width="1.1" height="1.1" fill="#000"/>
<rect x="255.1" y="480.5" width="1.1" height="1.1" fill="#000"/>
<rect x="254.1" y="489.4" width="1.1" height="1.1" fill="#000"/>
<rect x="253.5" y="486.1" width="1.1" height="1.1" fill="#000"/>
<rect x="255.3" y="485.9" width="1.1" height="1.1" fill="#000"/>
<rect x="253.6" y="490.5" width="1.1" height="1.1" fill="#000"/>
<rect x="255.8" y="484.5" width="1.1" height="1.1" fill="#000"/>
<rect x="259.2" y="481.7" width="1.1" height="1.1" fill="#000"/>
<rect x="255.6" y="484.6" width="1.1" height="1.1" fill="#000"/>
<rect x="254.0" y="487.8" width="1.1" height="1.1" fill="#000"/>
<rect x="254.2" y="487.6" width="1.1" height="1.1" fill="#000"/>
<rect x="250.7" y="480.5" width="1.1" height="1.1" fill="#000"/>
<rect x="255.0" y="482.3" width="1.1" height="1.1" fill="#000"/>
<rect x="251.7" y="480.6" width="1.1" height="1.1" fill="#000"/>
<rect x="256.3" y="487.9" width="1.1" height="1.1" fill="#000"/>
<rect x="256.7" y="482.4" width="1.1" height="1.1" fill="#000"/>
<rect x="253.8" y="481.7" width="1.1" height="1.1" fill="#000"/>
<rect x="255.3" y="490.7" width="1.1" height="1.1" fill="#000"/>
<rect x="252.0" y="490.6" width="1.1" height="1.1" fill="#000"/>
<rect x="255.7" y="484.9" width="1.1" height="1.1" fill="#000"/>
<rect x="249.8" y="490.1" width="1.1" height="1.1" fill="#000"/>
<rect x="253.6" y="483.5" width="1.1" height="1.1" fill="#000"/>
<rect x="254.5" y="486.8" width="1.1" height="1.1" fill="#000"/>
<rect x="256.7" y="482.1" width="1.1" height="1.1" fill="#000"/>
<rect x="256.0" y="490.4" width="1.1" height="1.1" fill="#000"/>
<rect x="256.7" y="484.9" width="1.1" height="1.1" fill="#000"/>
<rect x="252.3" y="488.8" width="1.1" height="1.1" fill="#000"/>
<rect x="254.0" y="485.9" width="1.1" height="1.1" fill="#000"/>
<rect x="256.6" y="484.6" width="1.1" height="1.1" fill="#000"/>
<rect x="249.2" y="484.2" width="1.1" height="1.1" fill="#000"/>
<rect x="250.0" y="488.2" width="1.1" height="1.1" fill="#000"/>
<rect x="254.4" y="483.4" width="1.1" height="1.1" fill="#000"/>
<rect x="253.7" y="488.2" width="1.1" height="1.1" fill="#000"/>
<rect x="253.9" y="489.8" width="1.1" height="1.1" fill="#000"/>
<rect x="253.6" y="488.9" width="1.1" height="1.1" fill="#000"/>
<rect x="256.7" y="490.8" width="1.1" height="1.1" fill="#000"/>
<rect x="252.4" y="488.4" width="1.1" height="1.1" fill="#000"/>
<rect x="250.0" y="481.9" width="1.1" height="1.1" fill="#000"/>
<rect x="249.8" y="489.0" width="1.1" height="1.1" fill="#000"/>
<rect x="251.3" y="485.4" width="1.1" height="1.1" fill="#000"/>
<rect x="253.4" y="485.4" width="1.1" height="1.1" fill="#000"/>
<rect x="252.6" y="486.2" width="1.1" height="1.1" fill="#000"/>
<rect x="257.3" y="485.6" width="1.1" height="1.1" fill="#000"/>
<rect x="254.8" y="488.8" width="1.1" height="1.1" fill="#000"/>
<rect x="253.4" y="481.3" width="1.1" height="1.1" fill="#000"/>
<rect x="252.6" y="489.0" width="1.1" height="1.1" fill="#000"/>
<rect x="250.5" y="483.5" width="1.1" height="1.1" fill="#000"/>
<rect x="255.8" y="488.1" width="1.1" height="1.1" fill="#000"/>
<rect x="253.8" y="488.1" width="1.1" height="1.1" fill="#000"/>
<rect x="254.1" y="481.6" width="1.1" height="1.1" fill="#000"/>
<rect x="250.6" y="483.3" width="1.1" height="1.1" fill="#000"/>
<rect x="255.6" y="483.6" width="1.1" height="1.1" fill="#000"/>
<rect x="251.9" y="482.9" width="1.1" height="1.1" fill="#000"/>
<rect x="250.7" y="485.1" width="1.1" height="1.1" fill="#000"/>
<rect x="251.4" y="486.7" width="1.1" height="1.1" fill="#000"/>
<rect x="249.0" y="486.5" width="1.1" height="1.1" fill="#000"/>
<rect x="252.5" y="479.0" width="1.1" height="1.1" fill="#000"/>
<rect x="255.2" y="484.5" width="1.1" height="1.1" fill="#000"/>
<rect x="249.3" y="482.6" width="1.1" height="1.1" fill="#000"/>
<rect x="254.3" y="483.9" width="1.1" height="1.1" fill="#000"/>
<rect x="255.3" y="487.9" width="1.1" height="1.1" fill="#000"/>
<rect x="255.1" y="486.5" width="1.1" height="1.1" fill="#000"/>
<rect x="256.4" y="487.6" width="1.1" height="1.1" fill="#000"/>
<rect x="254.7" y="478.6" width="1.1" height="1.1" fill="#000"/>
<rect x="255.5" y="489.8" width="1.1" height="1.1" fill="#000"/>
<rect x="253.2" y="483.9" width="1.1" height="1.1" fill="#000"/>
<rect x="257.6" y="479.6" width="1.1" height="1.1" fill="#000"/>
<rect x="254.7" y="493.4" width="1.1" height="1.1" fill="#000"/>
<rect x="251.9" y="487.7" width="1.1" height="1.1" fill="#000"/>
<rect x="263.4" y="489.1" width="1.1" height="1.1" fill="#000"/>
<rect x="260.5" y="492.0" width="1.1" height="1.1" fill="#000"/>
<rect x="257.3" y="489.2" width="1.1" height="1.1" fill="#000"/>
<rect x="259.9" y="491.8" width="1.1" height="1.1" fill="#000"/>
<rect x="259.2" y="488.9" width="1.1" height="1.1" fill="#000"/>
<rect x="257.0" y="488.4" width="1.1" height="1.1" fill="#000"/>
<rect x="261.2" y="489.7" width="1.1" height="1.1" fill="#000"/>
<rect x="257.4" y="487.1" width="1.1" height="1.1" fill="#000"/>
<rect x="265.1" y="492.6" width="1.1" height="1.1" fill="#000"/>
<rect x="260.7" y="482.2" width="1.1" height="1.1" fill="#000"/>
<rect x="260.6" y="490.8" width="1.1" height="1.1" fill="#000"/>
<rect x="263.0" y="490.6" width="1.1" height="1.1" fill="#000"/>
<rect x="259.1" y="490.9" width="1.1" height="1.1" fill="#000"/>
<rect x="255.0" y="492.3" width="1.1" height="1.1" fill="#000"/>
<rect x="260.0" y="487.5" width="1.1" height="1.1" fill="#000"/>
<rect x="262.2" y="494.5" width="1.1" height="1.1" fill="#000"/>
<rect x="256.2" y="487.6" width="1.1" height="1.1" fill="#000"/>
<rect x="259.9" y="490.0" width="1.1" height="1.1" fill="#000"/>
<rect x="258.4" y="486.7" width="1.1" height="1.1" fill="#000"/>
<rect x="263.9" y="492.4" width="1.1" height="1.1" fill="#000"/>
<rect x="241.9" y="488.7" width="1.1" height="1.1" fill="#000"/>
<rect x="257.8" y="489.3" width="1.1" height="1.1" fill="#000"/>
<rect x="258.5" y="488.2" width="1.1" height="1.1" fill="#000"/>
<rect x="243.7" y="494.1" width="1.1" height="1.1" fill="#000"/>
<rect x="236.6" y="493.9" width="1.1" height="1.1" fill="#000"/>
<rect x="248.1" y="492.7" width="1.1" height="1.1" fill="#000"/>
<rect x="244.4" y="492.1" width="1.1" height="1.1" fill="#000"/>
<rect x="251.0" y="490.6" width="1.1" height="1.1" fill="#000"/>
<rect x="252.0" y="489.4" width="1.1" height="1.1" fill="#000"/>
<rect x="246.7" y="494.6" width="1.1" height="1.1" fill="#000"/>
<rect x="248.7" y="487.0" width="1.1" height="1.1" fill="#000"/>
<rect x="245.0" y="492.3" width="1.1" height="1.1" fill="#000"/>
<rect x="247.8" y="491.4" width="1.1" height="1.1" fill="#000"/>
<rect x="248.4" y="491.2" width="1.1" height="1.1" fill="#000"/>
<rect x="247.7" y="485.8" width="1.1" height="1.1" fill="#000"/>
<rect x="250.8" y="493.4" width="1.1" height="1.1" fill="#000"/>
<rect x="250.8" y="488.4" width="1.1" height="1.1" fill="#000"/>
<rect x="250.9" y="485.2" width="1.1" height="1.1" fill="#000"/>
<rect x="238.0" y="496.4" width="1.1" height="1.1" fill="#000"/>
<rect x="243.3" y="496.2" width="1.1" height="1.1" fill="#000"/>
<rect x="233.4" y="497.2" width="1.1" height="1.1" fill="#000"/>
<rect x="235.4" y="495.8" width="1.1" height="1.1" fill="#000"/>
<rect x="233.1" y="505.9" width="1.1" height="1.1" fill="#000"/>
<rect x="235.4" y="502.8" width="1.1" height="1.1" fill="#000"/>
<rect x="238.4" y="500.1" width="1.1" height="1.1" fill="#000"/>
<rect x="239.4" y="501.4" width="1.1" height="1.1" fill="#000"/>
<rect x="242.8" y="503.4" width="1.1" height="1.1" fill="#000"/>
<rect x="241.8" y="487.1" width="1.1" height="1.1" fill="#000"/>
<rect x="246.0" y="486.1" width="1.1" height="1.1" fill="#000"/>
<rect x="250.8" y="478.8" width="1.1" height="1.1" fill="#000"/>
<rect x="259.9" y="486.8" width="1.1" height="1.1" fill="#000"/>
<rect x="262.6" y="486.4" width="1.1" height="1.1" fill="#000"/>
<rect x="262.3" y="493.8" width="1.1" height="1.1" fill="#000"/>
<rect x="262.6" y="495.8" width="1.1" height="1.1" fill="#000"/>
<rect x="254.3" y="496.6" width="1.1" height="1.1" fill="#000"/>
<rect x="257.8" y="492.4" width="1.1" height="1.1" fill="#000"/>
<rect x="234.4" y="504.4" width="1.1" height="1.1" fill="#000"/>
<rect x="236.9" y="498.4" width="1.1" height="1.1" fill="#000"/>
<rect x="240.4" y="497.4" width="1.1" height="1.1" fill="#000"/>
<rect x="251.4" y="479.9" width="1.1" height="1.1" fill="#000"/>
<rect x="251.2" y="481.4" width="1.1" height="1.1" fill="#000"/>
<rect x="260.4" y="488.4" width="1.1" height="1.1" fill="#000"/>
<rect x="258.4" y="490.4" width="1.1" height="1.1" fill="#000"/>
<rect x="243.4" y="502.9" width="1.1" height="1.1" fill="#000"/>
<rect x="242.9" y="504.4" width="1.1" height="1.1" fill="#000"/>
<rect x="655.3" y="539.5" width="1.2" height="1.2" fill="#000"/>
<rect x="656.5" y="538.8" width="1.2" height="1.2" fill="#000"/>
<rect x="657.0" y="538.4" width="1.2" height="1.2" fill="#000"/>
<rect x="657.7" y="537.8" width="1.2" height="1.2" fill="#000"/>
<rect x="658.9" y="537.6" width="1.2" height="1.2" fill="#000"/>
<rect x="659.3" y="536.4" width="1.2" height="1.2" fill="#000"/>
<rect x="660.2" y="536.5" width="1.2" height="1.2" fill="#000"/>
<rect x="661.5" y="535.0" width="1.2" height="1.2" fill="#000"/>
<rect x="662.6" y="535.6" width="1.2" height="1.2" fill="#000"/>
<rect x="663.2" y="534.6" width="1.2" height="1.2" fill="#000"/>
<rect x="663.7" y="533.4" width="1.2" height="1.2" fill="#000"/>
<rect x="664.9" y="532.9" width="1.2" height="1.2" fill="#000"/>
<rect x="665.5" y="532.5" width="1.2" height="1.2" fill="#000"/>
<rect x="666.2" y="532.3" width="1.2" height="1.2" fill="#000"/>
<path d="M666.8,532.0 L672.0,530.3 L678.0,528.6" fill="none" stroke="#000" stroke-width="2.6" stroke-linejoin="round"/>
<path d="M678.0,528.6 L682.0,527.0" fill="none" stroke="#000" stroke-width="1.8" stroke-linejoin="round"/>
<path d="M680.0,527.6 L686.0,525.0 L692.0,523.5 L696.0,522.0 L699.9,521.0" fill="none" stroke="#000" stroke-width="1.4" stroke-linejoin="round"/>
<path d="M676.0,529.0 L683.0,526.5 L690.0,524.2" fill="none" stroke="#000" stroke-width="1.2" stroke-linejoin="round"/>
<ellipse cx="684.6" cy="522.5" rx="4.2" ry="2.0" transform="rotate(-5 684.6 522.5)" fill="none" stroke="#000" stroke-width="1.3"/>
</svg></body></html>
